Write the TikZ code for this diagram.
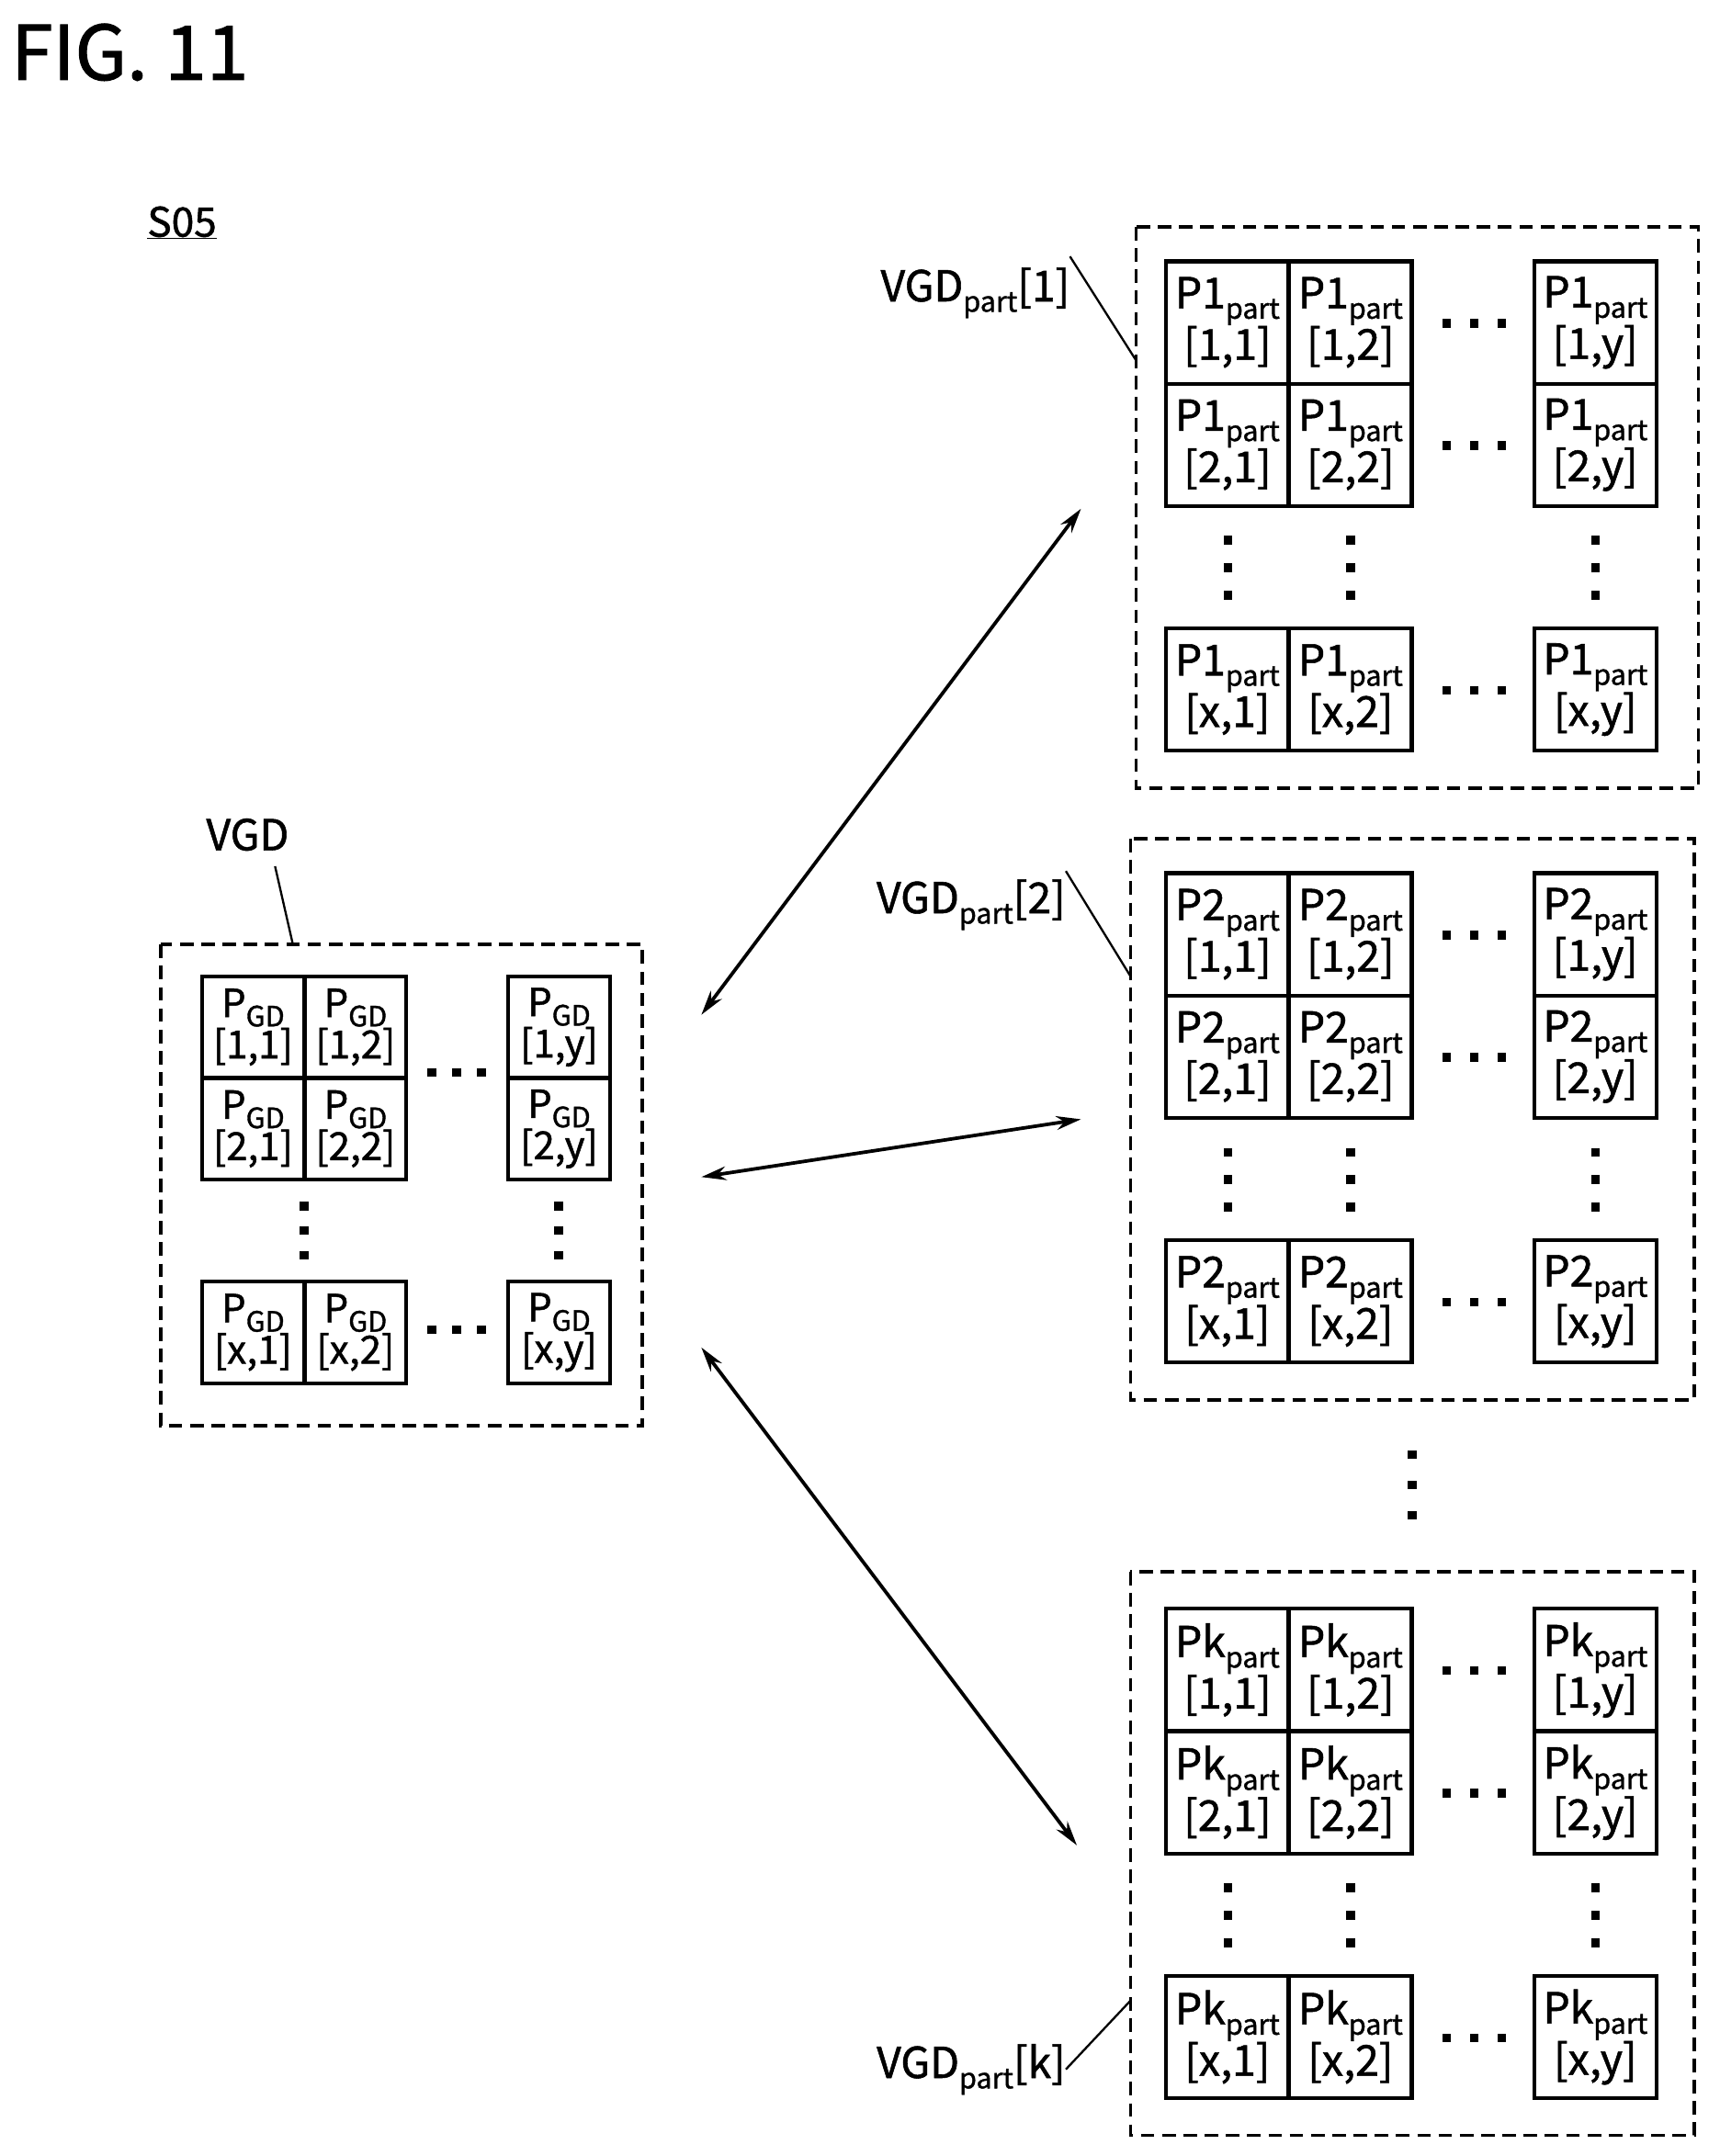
\documentclass[tikz,border=0pt]{standalone}
\usepackage{fontspec}
\setmainfont{Noto Sans CJK JP}[FakeBold=1.2,BoldFont=Noto Sans CJK JP]
\usetikzlibrary{arrows.meta}
\newcommand{\sbs}[1]{\raisebox{-0.45ex}{\fontsize{29}{29}\selectfont #1}}
\begin{document}
\begin{tikzpicture}[x=0.5mm,y=-0.5mm,
  dbox/.style={draw,line width=3.5pt,dash pattern=on 14pt off 8pt},
  cell/.style={draw,line width=4pt,minimum width=44.5mm,minimum height=44.5mm,inner sep=0pt,align=center,font=\bfseries\fontsize{44}{40}\selectfont},
  gcell/.style={draw,line width=4pt,minimum width=37mm,minimum height=37mm,inner sep=0pt,align=center,font=\bfseries\fontsize{40}{33}\selectfont},
  lbl/.style={font=\bfseries\fontsize{44}{44}\selectfont,inner sep=0pt},
  dot/.style={fill,rectangle,inner sep=0pt,minimum size=3.2mm},
  lead/.style={line width=2.2pt},
  arr/.style={line width=3.6pt,{Stealth[length=9mm,width=5mm]}-{Stealth[length=9mm,width=5mm]}}]
\useasboundingbox (0,0) rectangle (1250,1568);
\node[anchor=west,font=\bfseries\fontsize{78}{78}\selectfont,inner sep=0pt] (fig) at (8,38) {FIG. 11};
\node[anchor=west,font=\bfseries\fontsize{42}{42}\selectfont,inner sep=0pt] (s05) at (107,162) {\underline{S05}};
\foreach \g/\p/\bx/\by/\bw/\bh/\ra/\rb/\rc in {1/P1/826/165/409/408/190/279/457, 2/P2/822/610/410/408/635/724/902, 3/Pk/822/1143/410/410/1170/1259/1437}{
  \draw[dbox] (\bx,\by) rectangle ++(\bw,\bh);
  \foreach \r/\ry in {1/\ra,2/\rb,x/\rc}{
    \foreach \c/\cx in {1/892.5,2/982,y/1160}{
      \node[cell] (g\g c\r\c) at (\cx,\ry+44.5) {\p\sbs{part}\\{[}\r,\c{]}};
    }
    \foreach \d in {-20,0,20} \node[dot] (h\g\r\d) at (1072+\d,\ry+45) {};
  }
  \foreach \cx in {893,982,1160} \foreach \d in {-20,0,20} \node[dot] (v\g\cx\d) at (\cx,\rb+134+\d) {};
}
\foreach \d in {-22,0,22} \node[dot] (mid\d) at (1027,1080+\d) {};
\node[lbl,anchor=east] (l1) at (778,213) {VGD\sbs{part}[1]};
\node[lbl,anchor=east] (l2) at (775,658) {VGD\sbs{part}[2]};
\node[lbl,anchor=east] (lk) at (775,1505) {VGD\sbs{part}[k]};
\coordinate (t1) at (826,262);
\coordinate (t2) at (822,710);
\coordinate (tk) at (822,1455);
\draw[lead] (l1.north east) ++(0,-8) -- (t1);
\draw[lead] (l2.north east) ++(0,-6) -- (t2);
\draw[lead] (lk.east) -- (tk);
\draw[dbox] (117,687) rectangle (467,1037);
\node[lbl] (vgd) at (180,607) {VGD};
\coordinate (tv) at (213,687);
\draw[lead] (200,630) -- (tv);
\foreach \r/\ry in {1/710,2/784,x/932}{
  \foreach \c/\cx in {1/184,2/258.5,y/406.5}{
    \node[gcell] (v\r\c) at (\cx,\ry+37) {P\sbs{GD}\\{[}\r,\c{]}};
  }
}
\foreach \yy in {780,967} \foreach \d in {-18,0,18} \node[dot] (vh\yy\d) at (332+\d,\yy) {};
\foreach \cx in {221,406} \foreach \d in {-18,0,18} \node[dot] (vv\cx\d) at (\cx,895+\d) {};
\coordinate (a1) at (510,738); \coordinate (b1) at (786,370);
\coordinate (a2) at (510,856); \coordinate (b2) at (786,814);
\coordinate (a3) at (510,980); \coordinate (b3) at (783,1342);
\draw[arr] (a1) -- (b1);
\draw[arr] (a2) -- (b2);
\draw[arr] (a3) -- (b3);
\end{tikzpicture}
\end{document}
